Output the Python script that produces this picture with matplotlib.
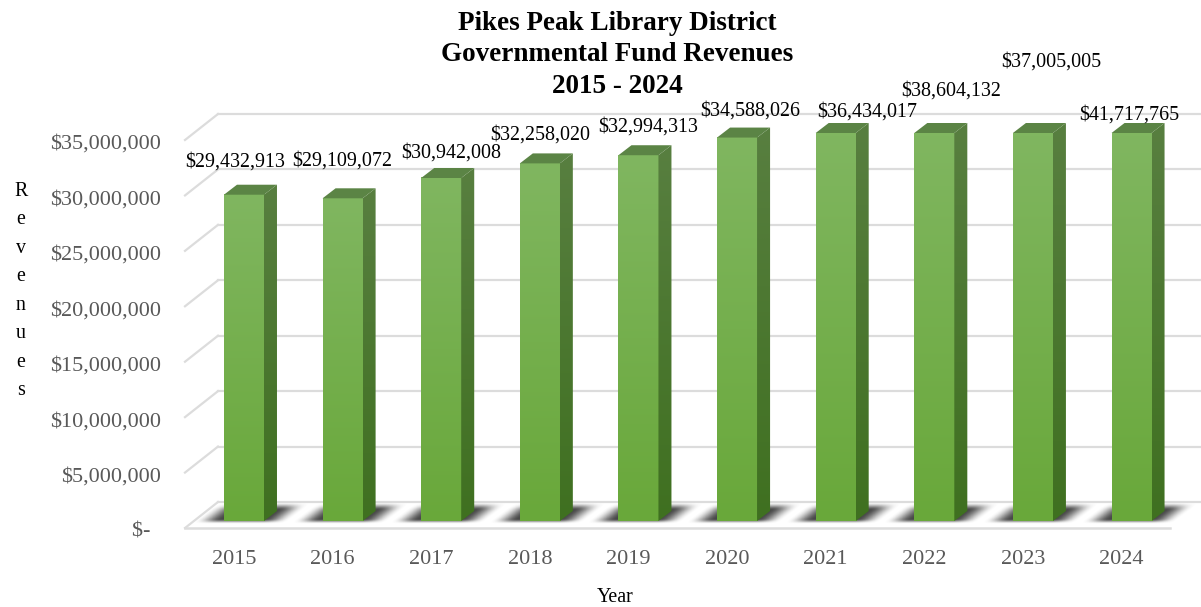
import matplotlib
matplotlib.use('Agg')
import matplotlib.pyplot as plt
import numpy as np
from matplotlib.colors import LinearSegmentedColormap
from matplotlib.patches import Polygon
from matplotlib.transforms import Affine2D

plt.rcParams['font.family'] = ['Liberation Serif', 'DejaVu Serif']

# data
years = ['2015', '2016', '2017', '2018', '2019', '2020', '2021', '2022', '2023', '2024']
revenues = [29432913, 29109072, 30942008, 32258020, 32994313,
            34588026, 36434017, 38604132, 37005005, 41717765]
y_ticks = [0, 5000000, 10000000, 15000000, 20000000, 25000000, 30000000, 35000000]
y_max = 35000000

# data labels were placed by hand in the original, offsets from bar top in pixels
label_offsets = [(-9, 33), (0, 37), (10, 25), (0, 28), (10, 28),
                 (13, 27), (32, 21), (17, 42), (18, 71), (-2, 18)]

W, H = 1201, 607
fig = plt.figure(figsize=(W / 100, H / 100), dpi=100)
fig.suppressComposite = True  # otherwise images get clipped to the axes box
ax = fig.add_axes([185 / W, (H - 521) / H, 985 / W, 388 / H])
ax.set_xlim(-0.598, 9.39)
ax.set_ylim(0, y_max)
for s in ax.spines.values():
    s.set_visible(False)

# pixel sizes in data units
px_x = 1 / 98.6
px_y = y_max / 388
bar_width = 40 * px_x
depth_x, depth_y = 13, 10


def shifted(dx, dy):
    return ax.transData + Affine2D().translate(dx, dy)


def gradient_fill(x0, x1, y0, y1, bottom, top, clip=None):
    cmap = LinearSegmentedColormap.from_list('g', [bottom, top])
    grad = np.linspace(0, 1, 128)[:, None]
    im = ax.imshow(grad, cmap=cmap, extent=(x0, x1, y0, y1), origin='lower',
                   aspect='auto', interpolation='bilinear', zorder=4)
    im.set_clip_box(fig.bbox)
    if clip is not None:
        im.set_clip_path(clip)
    return im


def smooth(t):
    t = np.clip(t, 0, 1)
    return t * t * (3 - 2 * t)


# gridlines and floor of the fake 3d box
xl, xr = ax.get_xlim()
grid_color = '#dcdcdc'
front = shifted(0, -7)
back = shifted(33, 19)
for v in y_ticks:
    ax.plot([xl, xr], [v, v], color=grid_color, lw=1.6, transform=back, clip_on=False, zorder=1)
    x_a, y_a = front.transform((xl, v))
    x_b, y_b = back.transform((xl, v))
    ax.plot([x_a, x_b], [y_a, y_b], color=grid_color, lw=1.6, transform=None, clip_on=False, zorder=1)
ax.plot([xl, xr], [0, 0], color=grid_color, lw=1.8, transform=front, clip_on=False, zorder=1)

# soft shadow on the floor
nx, ny = 180, 50
sx = np.linspace(-62, 76, nx)
sy = np.linspace(-3, 19, ny)
gx, gy = np.meshgrid(sx, sy)
u = gx - 1.3 * gy
ramp_l = smooth((u + 50) / 26)
ramp_r = smooth((44 - u) / 26)
ramp_v = smooth((gy + 3) / 5) * smooth((19 - gy) / 8)
shadow = np.zeros((ny, nx, 4))
shadow[..., :3] = 0.24
shadow[..., 3] = ramp_l * ramp_r * ramp_v * 0.95

# bars, clipped at the axis top like the original
x = np.arange(len(years))
heights = np.minimum(revenues, y_max)
bars = ax.bar(x, heights, bar_width, color='#74ae4c', zorder=3)

for i, bar in enumerate(bars):
    x0 = bar.get_x()
    x1 = x0 + bar.get_width()
    h = bar.get_height()
    ox, oy = depth_x * px_x, depth_y * px_y

    sh = ax.imshow(shadow, extent=(x[i] + sx[0] * px_x, x[i] + sx[-1] * px_x,
                                   sy[0] * px_y, sy[-1] * px_y),
                   origin='lower', aspect='auto', interpolation='bilinear', zorder=2)
    sh.set_clip_box(fig.bbox)

    front_im = gradient_fill(x0, x1, 0, h, '#69a83a', '#80b660')

    side = Polygon([(x1, 0), (x1 + ox, oy), (x1 + ox, h + oy), (x1, h)],
                   transform=ax.transData, facecolor='none', edgecolor='none')
    ax.add_patch(side)
    gradient_fill(x1, x1 + ox, 0, h + oy, '#3f7020', '#587f40', clip=side)

    ax.fill([x0, x1, x1 + ox, x0 + ox], [h, h, h + oy, h + oy],
            color='#5b8445', lw=0, clip_on=False, zorder=4)

    ax.annotate(f'${revenues[i]:,}', xy=(x[i], h), xytext=label_offsets[i],
                textcoords='offset pixels', ha='center', va='center',
                fontsize=14.4, color='black', zorder=6, annotation_clip=False)

ax.set_xlim(xl, xr)
ax.set_ylim(0, y_max)

# axes text
ax.set_xticks(x)
ax.set_xticklabels(years)
ax.set_yticks(y_ticks)
ax.set_yticklabels(['$-  '] + [f'${v:,}' for v in y_ticks[1:]])
ax.tick_params(axis='x', length=0, pad=21, labelsize=16, labelcolor='#595959')
ax.tick_params(axis='y', length=0, pad=17, labelsize=16, labelcolor='#595959')
for lab in ax.get_xticklabels():
    lab.set_transform(lab.get_transform() + Affine2D().translate(-10, 0))
for lab in ax.get_yticklabels():
    lab.set_transform(lab.get_transform() + Affine2D().translate(0, -9))

ax.set_xlabel('Year', fontsize=14.4)
ax.xaxis.set_label_coords((615 - 185) / 985, (521 - 588) / 388)
ax.set_ylabel('R\ne\nv\ne\nn\nu\ne\ns', rotation=0, fontsize=14.4, ha='center', va='center',
              linespacing=1.68)
ax.yaxis.set_label_coords((21 - 185) / 985, (521 - 291) / 388)

fig.suptitle('Pikes Peak Library District\nGovernmental Fund Revenues\n2015 - 2024',
             x=617 / W, y=1 - 11 / H, ha='center', va='top',
             fontsize=19.5, fontweight='bold', linespacing=1.33)

fig.savefig('out.png', dpi=100)
